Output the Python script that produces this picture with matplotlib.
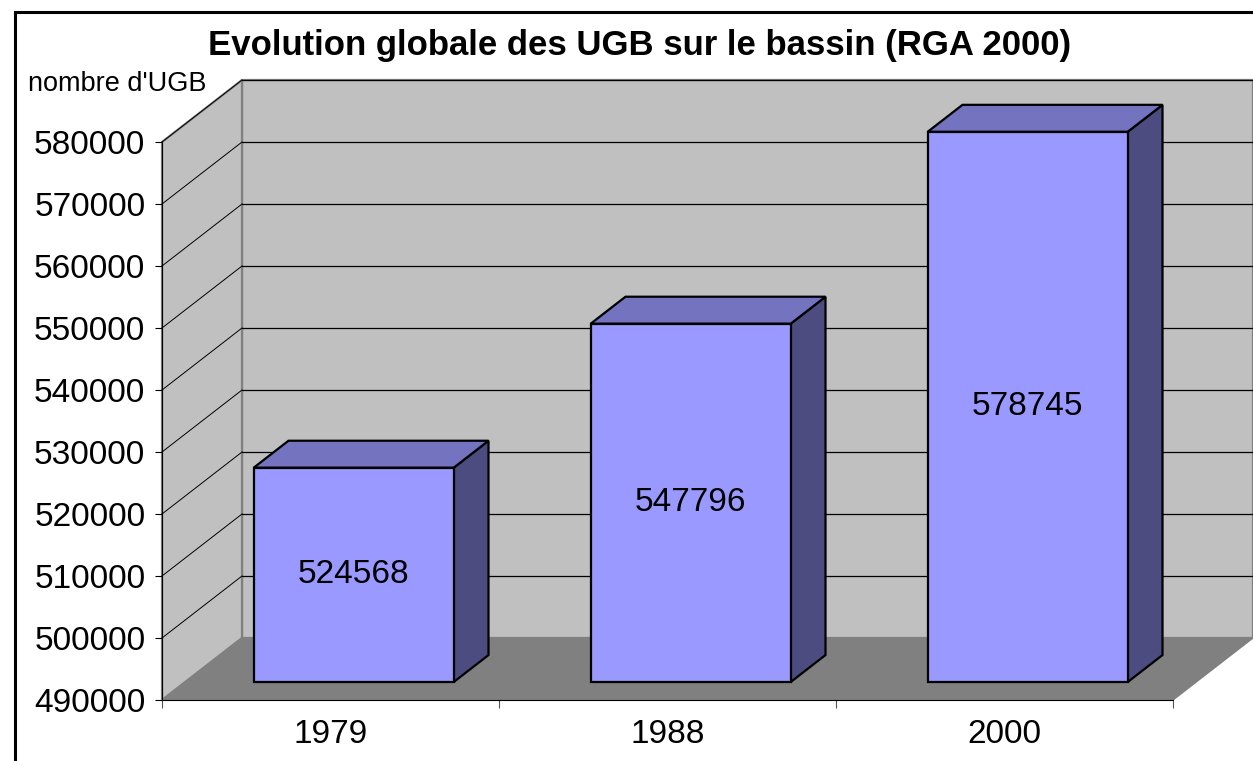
import matplotlib
matplotlib.use("Agg")
import matplotlib.pyplot as plt
from matplotlib.patches import Polygon, Rectangle

plt.rcParams['font.family'] = ['Liberation Sans', 'DejaVu Sans']

# data
years = ['1979', '1988', '2000']
ugb = [524568, 547796, 578745]
y_ticks = list(range(490000, 590000, 10000))

title = "Evolution globale des UGB sur le bassin (RGA 2000)"
y_title = "nombre d'UGB"

# 3d look: depth of the box, in category units and value units
DX, DY = 0.2374, 10000
y0, y1 = 490000, 580000
bar_w = 0.5935
bar_front = 0.29    # fraction of depth where bar front sits
bar_depth = 0.435   # fraction of depth taken by the bar

W, H = 1253, 761
fig = plt.figure(figsize=(W / 100, H / 100), dpi=100)
ax = fig.add_axes([162 / W, (H - 700) / H, (W - 162) / W, (700 - 80) / H])
n = len(years)
ax.set_xlim(0, n + DX)
ax.set_ylim(y0, y1 + DY)
ax.set_facecolor('none')

wall = '#C0C0C0'
edge = '#808080'
# back wall
ax.add_patch(Polygon([(DX, y0 + DY), (n + DX, y0 + DY), (n + DX, y1 + DY), (DX, y1 + DY)],
                     closed=True, facecolor=wall, edgecolor=edge, lw=1.6, clip_on=False, zorder=1))
# left wall
ax.add_patch(Polygon([(0, y0), (DX, y0 + DY), (DX, y1 + DY), (0, y1)],
                     closed=True, facecolor=wall, edgecolor=edge, lw=1.6, clip_on=False, zorder=1))
# gridlines on walls
for v in y_ticks[1:]:
    ax.plot([DX, n + DX], [v + DY, v + DY], color='black', lw=0.9, zorder=2, clip_on=False)
    ax.plot([0, DX], [v, v + DY], color='black', lw=0.7, zorder=2, clip_on=False)
# floor
ax.add_patch(Polygon([(0, y0), (n, y0), (n + DX, y0 + DY), (DX, y0 + DY)],
                     closed=True, facecolor='#808080', edgecolor='#808080', lw=1, clip_on=False, zorder=3))

# bars
for i, (yr, v) in enumerate(zip(years, ugb)):
    cx = i + 0.5 + bar_front * DX
    base = y0 + bar_front * DY
    top = v + bar_front * DY
    xl, xr = cx - bar_w / 2, cx + bar_w / 2
    ddx, ddy = bar_depth * DX, bar_depth * DY
    ax.add_patch(Polygon([(xr, base), (xr + ddx, base + ddy), (xr + ddx, top + ddy), (xr, top)],
                         closed=True, facecolor='#4C4C80', edgecolor='black', lw=1.6, zorder=4,
                         joinstyle='miter', clip_on=False))
    ax.add_patch(Polygon([(xl, top), (xr, top), (xr + ddx, top + ddy), (xl + ddx, top + ddy)],
                         closed=True, facecolor='#7373BF', edgecolor='black', lw=1.6, zorder=4,
                         joinstyle='miter', clip_on=False))
    ax.add_patch(Rectangle((xl, base), bar_w, v - y0, facecolor='#9999FF',
                           edgecolor='black', lw=1.6, zorder=5, joinstyle='miter'))
    ax.text(cx, base + (v - y0) / 2, str(v), ha='center', va='center', fontsize=24, zorder=6)

# axes
for s in ['top', 'right']:
    ax.spines[s].set_visible(False)
ax.spines['left'].set_bounds(y0, y1)
ax.spines['bottom'].set_bounds(0, n)
ax.spines['left'].set_linewidth(0.8)
ax.spines['bottom'].set_linewidth(0.8)
ax.spines['left'].set_zorder(7)
ax.spines['bottom'].set_zorder(7)
ax.set_yticks(y_ticks)
ax.set_yticklabels([str(t) for t in y_ticks])
ax.tick_params(axis='y', length=5, width=0.8, pad=7, labelsize=24)
ax.set_xticks([i + 0.5 for i in range(n)])
ax.set_xticklabels(years)
ax.tick_params(axis='x', which='major', length=0, pad=14, labelsize=24)
ax.set_xticks(list(range(n + 1)), minor=True)
ax.tick_params(axis='x', which='minor', length=6, width=0.8, color='#555555')

fig.text(640 / W, 1 - 46 / H, title, ha='center', va='center', fontsize=25, fontweight='bold')
fig.text(28 / W, 1 - 84 / H, y_title, ha='left', va='center', fontsize=19.5)

# outer chart frame
fig.add_artist(Rectangle((15 / W, -0.05), 1.2, (H - 12) / H + 0.05, transform=fig.transFigure,
                         fill=False, edgecolor='black', lw=2.2))

fig.savefig('out.png', dpi=100)
